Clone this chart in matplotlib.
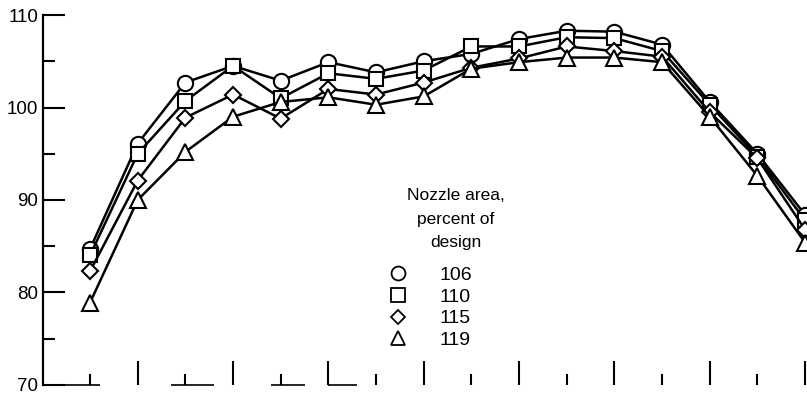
import matplotlib.pyplot as plt
from matplotlib.lines import Line2D

# measurement stations along the axis
stations = [1, 2, 3, 4, 5, 6, 7, 8, 9, 10, 11, 12, 13, 14, 15, 16]

# nozzle area, percent of design -> measured values
area_106 = [84.7, 96.1, 102.7, 104.5, 102.9, 104.9, 103.8, 105.0, 105.8, 107.4, 108.3, 108.2, 106.8, 100.6, 95.0, 88.4]
area_110 = [84.0, 95.0, 100.7, 104.5, 101.0, 103.7, 103.1, 104.0, 106.6, 106.6, 107.6, 107.5, 106.1, 100.3, 94.7, 87.8]
area_115 = [82.3, 92.1, 98.9, 101.4, 98.8, 102.0, 101.4, 102.7, 104.3, 105.3, 106.6, 106.1, 105.5, 99.5, 94.5, 86.8]
area_119 = [78.9, 90.0, 95.2, 99.0, 100.6, 101.1, 100.3, 101.2, 104.2, 104.9, 105.4, 105.4, 104.9, 99.0, 92.6, 85.4]

labels = ['106', '110', '115', '119']
markers = ['o', 's', 'D', '^']
msizes = [11, 10, 8, 11]
legend_sizes = [10, 9.5, 7.5, 10]

y_major = [70, 80, 90, 100, 110]
y_minor = [75, 85, 95, 105]
x_major = [2, 4, 6, 8, 10, 12, 14, 16]
x_minor = [1, 3, 5, 7, 9, 11, 13, 15]

# pieces of the baseline that survive on the original drawing
base_starts = [0.0, 2.7, 4.8, 6.0]
base_ends = [1.2, 3.6, 5.5, 6.6]

font = ['Liberation Sans', 'DejaVu Sans']

fig = plt.figure(figsize=(8.07, 3.96), dpi=100)
ax = fig.add_axes([0.0533, 0.0278, 0.9467, 0.9343])

series = [area_106, area_110, area_115, area_119]
for vals, m, ms in zip(series, markers, msizes):
    ax.plot(stations, vals, color='black', lw=1.8, marker=m, ms=ms,
            mfc='white', mec='black', mew=1.5, clip_on=False)

ax.set_xlim(0.014, 16.04)
ax.set_ylim(70, 110)

ax.set_yticks(y_major)
ax.set_yticks(y_minor, minor=True)
ax.set_xticks(x_major)
ax.set_xticks(x_minor, minor=True)
ax.set_xticklabels([])

ax.tick_params(axis='y', which='major', direction='in', length=16, width=1.5, pad=3.5)
ax.tick_params(axis='y', which='minor', direction='in', length=8.5, width=1.5)
ax.tick_params(axis='x', which='major', direction='in', length=17, width=1.5)
ax.tick_params(axis='x', which='minor', direction='in', length=8, width=1.5)
for lab in ax.get_yticklabels():
    lab.set_family(font)
    lab.set_fontsize(13.5)

for side in ['top', 'right', 'bottom']:
    ax.spines[side].set_visible(False)
ax.spines['left'].set_linewidth(1.6)

ax.hlines([70] * len(base_starts), base_starts, base_ends, color='black', lw=1.2, clip_on=False)

ax.text(0.54, 0.448, 'Nozzle area,\npercent of\ndesign', transform=ax.transAxes,
        ha='center', va='center', family=font, fontsize=12.5, linespacing=1.7)

handles = [Line2D([], [], ls='none', marker=m, ms=s, mfc='white', mec='black', mew=1.3)
           for m, s in zip(markers, legend_sizes)]
ax.legend(handles, labels, loc='center', bbox_to_anchor=(0.507, 0.209), frameon=False,
          prop={'family': font, 'size': 14}, labelspacing=0.22,
          handlelength=1.0, handletextpad=1.6, borderpad=0)

fig.savefig('out.png', dpi=100)
